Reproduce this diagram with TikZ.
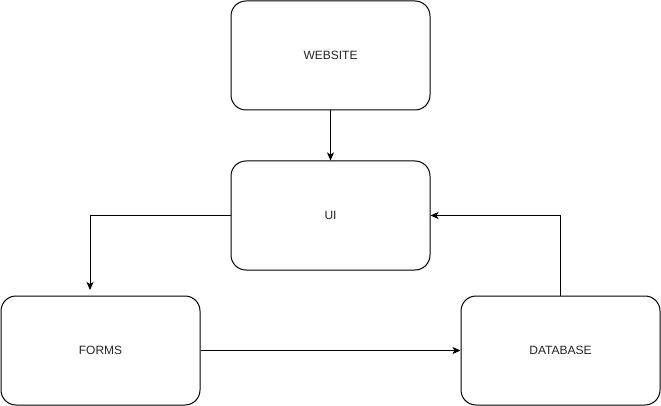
\documentclass[tikz,border=0pt]{standalone}
\usepackage{fontspec}
\setmainfont{Liberation Sans}
\usetikzlibrary{arrows.meta}
\begin{document}
\begin{tikzpicture}[x=1pt,y=-1pt,
  box/.style={draw=black, line width=1pt, rounded corners=15pt, fill=white,
    minimum width=199pt, minimum height=109pt, inner sep=0pt,
    font=\fontsize{12}{14}\selectfont, text=black!85},
  link/.style={draw=black, line width=1pt,
    -{Stealth[length=8pt,width=7pt,inset=2pt]}}]
  \useasboundingbox (0,0) rectangle (661,406);
  \node[box] (website) at (330.5,55.5) {WEBSITE};
  \node[box] (ui) at (330.5,215.5) {UI};
  \node[box] (forms) at (100.5,350.5) {FORMS};
  \node[box] (database) at (560.5,350.5) {DATABASE};
  \coordinate (formsin) at (90,296);
  \draw[link] (website) -- (ui);
  \draw[link, shorten >=6pt] (ui.west) -| (formsin);
  \draw[link] (forms) -- (database);
  \draw[link] (database.north) |- (ui.east);
\end{tikzpicture}
\end{document}
